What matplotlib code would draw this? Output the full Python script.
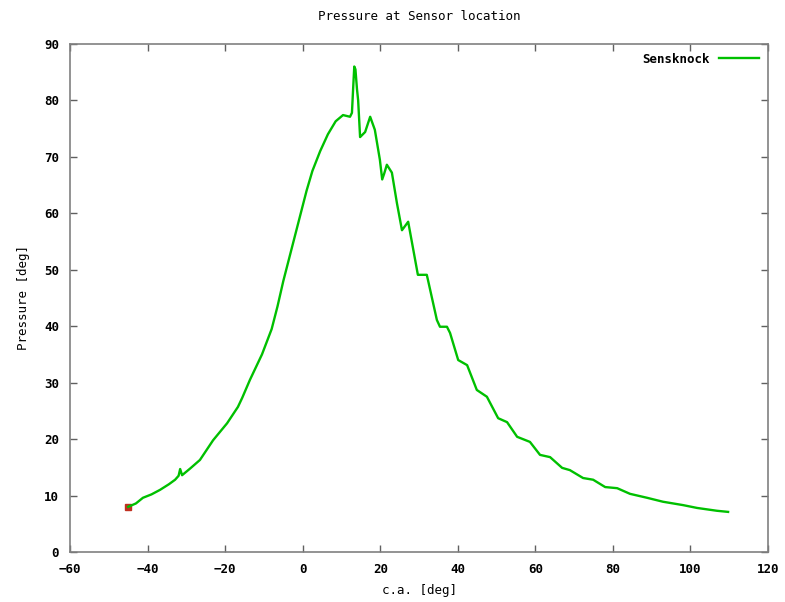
import matplotlib
matplotlib.use('Agg')
import matplotlib.pyplot as plt

# crank angle [deg] and pressure values
ca = [-45.0, -43.0, -41.2, -39.0, -36.8, -34.5, -32.9, -32.0, -31.6, -31.1,
      -29.0, -26.5, -23.1, -19.5, -16.7, -15.6, -13.6, -10.5, -8.0, -6.5,
      -5.0, -3.5, -2.0, -0.5, 1.0, 2.5, 4.5, 6.5, 8.5, 10.4,
      12.2, 12.7, 13.0, 13.3,
      13.6, 14.0, 14.3, 14.8, 16.1, 17.4, 18.6, 19.9, 20.5, 21.0,
      21.7, 23.0, 24.3, 25.6, 27.2, 28.4, 29.7, 32.0, 32.3, 34.6,
      35.4, 37.2, 38.0, 40.1, 42.4, 44.9, 47.5, 50.4, 52.7, 55.3,
      58.6, 61.2, 63.8, 66.9, 68.9, 72.3, 74.9, 78.0, 81.1, 84.4,
      88.8, 92.9, 98.1, 101.7, 106.8, 109.7]
pressure = [8.0, 8.6, 9.6, 10.2, 11.0, 12.0, 12.8, 13.5, 14.7, 13.6,
            14.8, 16.3, 19.8, 22.8, 25.7, 27.3, 30.5, 35.0, 39.5, 43.5,
            48.0, 52.0, 56.0, 60.0, 64.0, 67.5, 71.0, 74.0, 76.3, 77.4,
            77.1, 77.8, 82.0, 86.0,
            85.5, 82.0, 80.0, 73.5, 74.4, 77.1, 74.8, 69.5, 66.0, 67.0,
            68.6, 67.2, 61.8, 57.0, 58.5, 54.0, 49.1, 49.1, 48.2, 41.1,
            39.9, 39.9, 38.8, 34.0, 33.1, 28.7, 27.5, 23.7, 23.0, 20.4,
            19.5, 17.2, 16.8, 14.9, 14.5, 13.1, 12.8, 11.5, 11.3, 10.3,
            9.6, 8.9, 8.3, 7.8, 7.3, 7.1]

xticks = [-60, -40, -20, 0, 20, 40, 60, 80, 100, 120]
yticks = [0, 10, 20, 30, 40, 50, 60, 70, 80, 90]

plt.rcParams['font.family'] = ['DejaVu Sans Mono']
plt.rcParams['font.weight'] = 'bold'

fig = plt.figure(figsize=(7.85, 6.02), dpi=100)
ax = fig.add_axes([0.0892, 0.0831, 0.8892, 0.8439])

# start point marker (red square)
ax.plot(ca[:1], pressure[:1], 's', color='#c03020', markersize=5, zorder=2)
ax.plot(ca, pressure, color='#00c000', linewidth=1.7, label='Sensknock', zorder=3)

ax.set_xlim(-60, 120)
ax.set_ylim(0, 90)
ax.set_xticks(xticks)
ax.set_yticks(yticks)
ax.tick_params(direction='in', length=5, width=1, color='#606060',
               top=True, right=True, labelsize=9, pad=8)
for s in ax.spines.values():
    s.set_color('#808080')
    s.set_linewidth(1.2)

ax.set_title('Pressure at Sensor location', fontsize=9, fontweight='normal', pad=17)
ax.set_xlabel('c.a. [deg]', fontsize=9, labelpad=6)
ax.set_ylabel('Pressure [deg]', fontsize=9, labelpad=10)

ax.legend(loc='upper right', frameon=False, markerfirst=False, fontsize=9,
          handlelength=3.2, borderaxespad=0.3)

fig.savefig('out.png', dpi=100)
